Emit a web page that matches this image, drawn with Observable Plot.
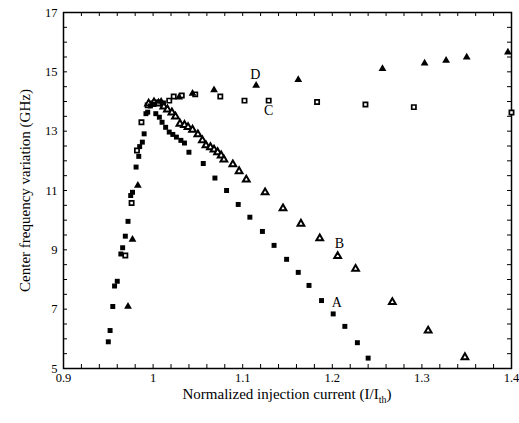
<!DOCTYPE html>
<html><head><meta charset="utf-8">
<script src="https://cdn.jsdelivr.net/npm/d3@7"></script>
<script src="https://cdn.jsdelivr.net/npm/@observablehq/plot@0.6"></script>
<style>body{margin:0;background:#fff} svg{display:block}</style>
</head><body><div id="chart"></div>
<script>
// Series A: filled squares
const A_x = [0.950,0.952,0.955,0.957,0.960,0.964,0.966,0.969,0.972,0.975,0.977,0.981,0.984,0.985,0.988,0.990,0.992,0.994,0.997,1.001,1.003,1.007,1.010,1.014,1.018,1.022,1.026,1.031,1.035,1.040,1.056,1.069,1.082,1.095,1.108,1.122,1.135,1.149,1.162,1.174,1.188,1.201,1.214,1.228,1.240];
const A_y = [5.90,6.28,7.09,7.78,7.94,8.86,9.07,9.46,9.96,10.83,10.94,11.79,12.15,12.48,12.63,12.91,13.59,13.64,13.85,13.90,13.59,13.47,13.30,13.13,12.97,12.89,12.80,12.69,12.60,12.29,11.91,11.42,11.00,10.53,10.10,9.62,9.15,8.68,8.24,7.80,7.29,6.84,6.42,5.87,5.35];
// Series B: open triangles
const B_x = [0.995,1.001,1.006,1.012,1.016,1.021,1.025,1.030,1.035,1.039,1.044,1.050,1.055,1.059,1.064,1.068,1.072,1.076,1.079,1.089,1.096,1.104,1.125,1.145,1.165,1.186,1.206,1.226,1.267,1.307,1.348];
const B_y = [13.93,13.97,13.93,13.83,13.73,13.63,13.49,13.25,13.21,13.14,13.05,12.89,12.69,12.52,12.46,12.38,12.29,12.18,12.04,11.88,11.65,11.37,10.94,10.40,9.88,9.39,8.79,8.36,7.24,6.28,5.38];
// Series C: open squares
const C_x = [0.969,0.976,0.982,0.987,0.994,1.000,1.005,1.011,1.018,1.023,1.032,1.047,1.075,1.102,1.129,1.183,1.237,1.291,1.400];
const C_y = [8.81,10.58,12.35,13.30,13.87,13.93,13.97,13.93,14.03,14.17,14.20,14.24,14.17,14.03,14.03,13.98,13.90,13.81,13.63];
// Series D: filled triangles
const D_x = [0.972,0.977,0.983,1.009,1.029,1.044,1.068,1.115,1.162,1.256,1.303,1.327,1.350,1.396];
const D_y = [7.09,9.35,11.17,14.00,14.14,14.27,14.39,14.54,14.73,15.10,15.29,15.38,15.49,15.66];
// Curve labels
const lbl_text = ["A","B","C","D"];
const lbl_x = [1.205,1.208,1.129,1.114];
const lbl_y = [7.23,9.21,13.70,14.91];
// Axis ticks
const xLabels = [0.9,1.0,1.1,1.2,1.3,1.4];
const yLabels = [5,7,9,11,13,15,17];
const xMinor = d3.range(0, 26).map(i => +(0.9 + i*0.02).toFixed(2));
const yMinor = d3.range(0, 25).map(i => 5 + i*0.5);

const zip = (xs, ys) => xs.map((x, i) => ({x, y: ys[i]}));
const A = zip(A_x, A_y), B = zip(B_x, B_y), C = zip(C_x, C_y), D = zip(D_x, D_y);
const L = lbl_text.map((t, i) => ({t, x: lbl_x[i], y: lbl_y[i]}));

const W = 519, H = 423, mL = 63, mR = 8, mT = 12, mB = 55;
const fw = W - mL - mR, fh = H - mT - mB;
const tk = 4;
const FONT = "'Liberation Serif', 'Times New Roman', serif";

const chart = Plot.plot({
  width: W, height: H, marginLeft: mL, marginRight: mR, marginTop: mT, marginBottom: mB,
  style: {fontFamily: FONT, fontSize: "12px", background: "#fff", color: "#000"},
  x: {domain: [0.9, 1.4], axis: null},
  y: {domain: [5, 17], axis: null},
  marks: [
    Plot.ruleX(xMinor, {x: d => d, insetTop: fh - tk, stroke: "#000", strokeWidth: 1}),
    Plot.ruleX(xMinor, {x: d => d, insetBottom: fh - tk, stroke: "#000", strokeWidth: 1}),
    Plot.ruleY(yMinor, {y: d => d, insetRight: fw - tk, stroke: "#000", strokeWidth: 1}),
    Plot.ruleY(yMinor, {y: d => d, insetLeft: fw - tk, stroke: "#000", strokeWidth: 1}),
    Plot.frame({stroke: "#000", strokeWidth: 1.5}),
    Plot.axisX({ticks: xLabels, tickSize: 0, tickPadding: 5, tickFormat: d => String(+d.toFixed(1)), fontSize: 12.5, label: null}),
    Plot.axisY({ticks: yLabels, tickSize: 0, tickPadding: 6, tickFormat: d => String(d), fontSize: 12.5, label: null}),
    Plot.dot(C, {x: "x", y: "y", symbol: "square", r: 2.4, fill: "#fff", stroke: "#000", strokeWidth: 1.7}),
    Plot.dot(B, {x: "x", y: "y", symbol: "triangle", r: 2.5, fill: "#fff", stroke: "#000", strokeWidth: 2}),
    Plot.dot(A, {x: "x", y: "y", symbol: "square", r: 2.8, fill: "#000", stroke: "none"}),
    Plot.dot(D, {x: "x", y: "y", symbol: "triangle", r: 2.9, fill: "#000", stroke: "none"}),
    Plot.text(L, {x: "x", y: "y", text: "t", fontSize: 14, fill: "#000"}),
    Plot.text(["Center frequency variation (GHz)"], {frameAnchor: "left", textAnchor: "middle", rotate: -90, dx: -38, fontSize: 15, fill: "#000"})
  ]
});
document.getElementById("chart").appendChild(chart);

// x-axis title with subscript
const svg = d3.select(chart);
const xt = svg.append("text")
  .attr("x", mL + fw / 2)
  .attr("y", H - 24)
  .attr("text-anchor", "middle")
  .attr("font-family", FONT)
  .attr("font-size", 15)
  .attr("fill", "#000");
xt.append("tspan").text("Normalized injection current (I/I");
xt.append("tspan").attr("font-size", 10).attr("dy", 4).text("th");
xt.append("tspan").attr("dy", -4).text(")");
</script>
</body></html>
